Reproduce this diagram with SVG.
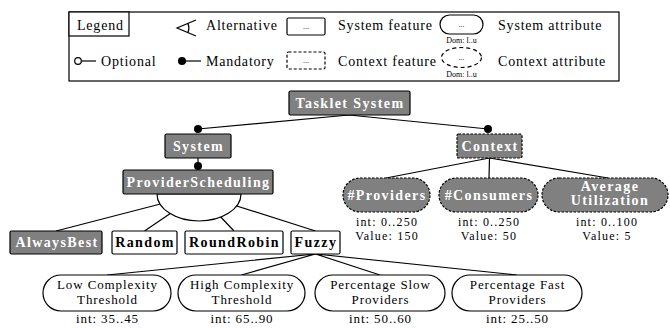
<svg xmlns="http://www.w3.org/2000/svg" width="670" height="328" viewBox="0 0 670 328" font-family="'Liberation Serif', 'DejaVu Serif', serif">
  <style>
    text { font-family: "Liberation Serif", "DejaVu Serif", "Times New Roman", serif; fill: #000; }
    .lg { font-size: 14px; letter-spacing: 0.8px; }
    .rg { font-size: 13px; letter-spacing: 0.9px; text-anchor: middle; }
    .sm { font-size: 12px; letter-spacing: 1.2px; text-anchor: middle; }
    .bd { font-size: 14px; font-weight: bold; letter-spacing: 1.4px; text-anchor: middle; }
    .wt { fill: #fff; }
    .tiny { font-size: 8px; text-anchor: middle; }
    .frame { fill: #fff; stroke: #000; stroke-width: 1.2; }
    .feat { fill: #fff; stroke: #000; stroke-width: 1.2; }
    .sys { fill: #808080; stroke: #000; stroke-width: 1.2; }
    .ctx { fill: #808080; stroke: #000; stroke-width: 1.2; stroke-dasharray: 2.5 1.5; }
    .dash { fill: #fff; stroke: #000; stroke-width: 1.2; stroke-dasharray: 3 2; }
    .edge { stroke: #000; stroke-width: 1.2; fill: none; }
    .dot { fill: #000; }
    .hole { fill: #fff; stroke: #000; stroke-width: 1.2; }
  </style>

  <!-- legend -->
  <g id="legend">
    <rect class="frame" x="69" y="12" width="550" height="69"/>
    <rect class="frame" x="69" y="12" width="60" height="24"/>
    <text class="lg" x="77" y="30">Legend</text>

    <path class="edge" d="M196,20 L177,28 L196,36 M188,23.5 A12,12 0 0 1 188,32.5"/>
    <text class="lg" x="206" y="30">Alternative</text>

    <rect class="feat" x="287" y="18" width="38" height="17" rx="1.5"/>
    <text class="tiny" x="306" y="29">...</text>
    <text class="lg" x="338" y="30">System feature</text>

    <rect class="feat" x="440" y="15" width="43" height="19" rx="9.5"/>
    <text class="tiny" x="461.5" y="27">...</text>
    <text class="tiny" x="461.5" y="43">Dom: l..u</text>
    <text class="lg" x="498" y="30">System attribute</text>

    <circle cx="78" cy="61" r="3.3" fill="#fff" stroke="#000" stroke-width="1.2"/>
    <line class="edge" x1="81.3" y1="61" x2="96" y2="61"/>
    <text class="lg" x="101" y="66">Optional</text>

    <circle class="dot" cx="182" cy="61" r="4"/>
    <line class="edge" x1="182" y1="61" x2="201" y2="61"/>
    <text class="lg" x="206" y="66">Mandatory</text>

    <rect class="dash" x="287" y="52" width="38" height="17" rx="1.5"/>
    <text class="tiny" x="306" y="63">...</text>
    <text class="lg" x="338" y="66">Context feature</text>

    <ellipse cx="461.5" cy="57.5" rx="20" ry="10" fill="#fff" stroke="#000" stroke-width="1.2" stroke-dasharray="4 3"/>
    <text class="tiny" x="461.5" y="60">...</text>
    <text class="tiny" x="461.5" y="77">Dom: l..u</text>
    <text class="lg" x="498" y="66">Context attribute</text>
  </g>

  <!-- connectors -->
  <g id="connectors">
    <path class="edge" d="M349,115 L198,129 M349,115 L488,129"/>
    <path class="edge" d="M198,158 L198,170"/>
    <path class="edge" d="M489.5,158 L386,178 M489.5,158 L489,178 M489.5,158 L608,178"/>
    <path class="edge" d="M199,194 L56,231 M199,194 L144.5,231 M199,194 L234,231 M199,194 L315.5,231"/>
    <path class="edge" d="M315.5,254 L107,275 M315.5,254 L241.5,275 M315.5,254 L380,275 M315.5,254 L517,275"/>
    <!-- alternative group arc -->
    <path class="hole" d="M157,194 A42,27 0 0 0 241,194 Z"/>
    <circle class="dot" cx="198" cy="129" r="4"/>
    <circle class="dot" cx="488" cy="129" r="4"/>
    <circle class="dot" cx="198" cy="166" r="4"/>
  </g>

  <g id="tasklet-system">
    <rect class="sys" x="289" y="91" width="121" height="24" rx="1.5"/>
    <text class="bd wt" x="350" y="108">Tasklet System</text>
  </g>

  <g id="system">
    <rect class="sys" x="165" y="134" width="66" height="24" rx="1.5"/>
    <text class="bd wt" x="198.5" y="151">System</text>
  </g>

  <g id="provider-scheduling">
    <rect class="sys" x="123" y="170" width="150" height="24" rx="1.5"/>
    <text class="bd wt" x="198.5" y="187">ProviderScheduling</text>
  </g>

  <g id="context">
    <rect class="ctx" x="457" y="134" width="65" height="24" rx="1.5"/>
    <text class="bd wt" x="490" y="151">Context</text>
  </g>

  <g id="providers">
    <rect class="ctx" x="343" y="178" width="87" height="34" rx="17"/>
    <text class="bd wt" x="387" y="200">#Providers</text>
    <text class="sm" x="387" y="226">int: 0..250</text>
    <text class="sm" x="387" y="240">Value: 150</text>
  </g>

  <g id="consumers">
    <rect class="ctx" x="439" y="178" width="99" height="34" rx="17"/>
    <text class="bd wt" x="489" y="200">#Consumers</text>
    <text class="sm" x="489" y="226">int: 0..250</text>
    <text class="sm" x="489" y="240">Value: 50</text>
  </g>

  <g id="average-utilization">
    <rect class="ctx" x="542" y="178" width="126" height="34" rx="17"/>
    <text class="bd wt" x="610" y="191">Average</text>
    <text class="bd wt" x="610" y="205">Utilization</text>
    <text class="sm" x="607" y="226">int: 0..100</text>
    <text class="sm" x="607" y="240">Value: 5</text>
  </g>

  <g id="always-best">
    <rect class="sys" x="10" y="231" width="92" height="23" rx="1.5"/>
    <text class="bd wt" x="57" y="247">AlwaysBest</text>
  </g>

  <g id="random">
    <rect class="feat" x="112" y="231" width="65" height="23" rx="1.5"/>
    <text class="bd" x="145" y="247">Random</text>
  </g>

  <g id="round-robin">
    <rect class="feat" x="185" y="231" width="98" height="23" rx="1.5"/>
    <text class="bd" x="234.5" y="247">RoundRobin</text>
  </g>

  <g id="fuzzy">
    <rect class="feat" x="291" y="231" width="49" height="23" rx="1.5"/>
    <text class="bd" x="316" y="247">Fuzzy</text>
  </g>

  <g id="low-complexity-threshold">
    <rect class="feat" x="43" y="275" width="128" height="36" rx="18"/>
    <text class="rg" x="107.5" y="289">Low Complexity</text>
    <text class="rg" x="107.5" y="304">Threshold</text>
    <text class="rg" x="107.5" y="323">int: 35..45</text>
  </g>

  <g id="high-complexity-threshold">
    <rect class="feat" x="178" y="275" width="127" height="36" rx="18"/>
    <text class="rg" x="242" y="289">High Complexity</text>
    <text class="rg" x="242" y="304">Threshold</text>
    <text class="rg" x="242" y="323">int: 65..90</text>
  </g>

  <g id="percentage-slow-providers">
    <rect class="feat" x="315" y="275" width="130" height="36" rx="18"/>
    <text class="rg" x="380.5" y="289">Percentage Slow</text>
    <text class="rg" x="380.5" y="304">Providers</text>
    <text class="rg" x="380.5" y="323">int: 50..60</text>
  </g>

  <g id="percentage-fast-providers">
    <rect class="feat" x="452" y="275" width="130" height="36" rx="18"/>
    <text class="rg" x="517.5" y="289">Percentage Fast</text>
    <text class="rg" x="517.5" y="304">Providers</text>
    <text class="rg" x="517.5" y="323">int: 25..50</text>
  </g>
</svg>
